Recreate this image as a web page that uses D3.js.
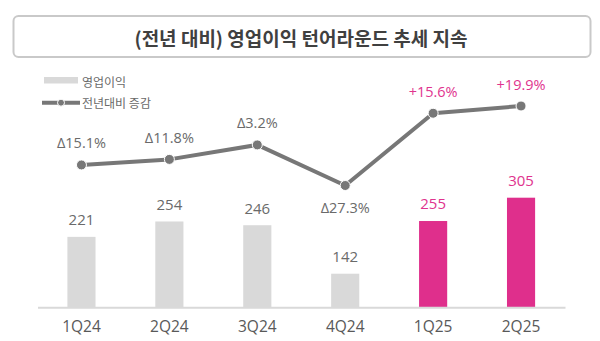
<!DOCTYPE html>
<html><head><meta charset="utf-8">
<script src="https://cdn.jsdelivr.net/npm/d3@7/dist/d3.min.js"></script>
<style>body{margin:0;background:#fff}svg{display:block}</style>
</head><body><svg id="c" width="600" height="341"></svg>
<script>
const categories = ["1Q24","2Q24","3Q24","4Q24","1Q25","2Q25"];
const profit = [221,254,246,142,255,305];
const yoy = [-15.1,-11.8,-3.2,-27.3,15.6,19.9];
const yoyLabels = ["Δ15.1%","Δ11.8%","Δ3.2%","Δ27.3%","+15.6%","+19.9%"];
const highlight = [false,false,false,false,true,true];
const title = "(전년 대비) 영업이익 턴어라운드 추세 지속";
const legendLabels = ["영업이익","전년대비 증감"];

const FONT = "'Open Sans','Noto Sans CJK KR',sans-serif";
const KFONT = "'Noto Sans CJK KR','Noto Sans',sans-serif";
const GRAY_BAR = "#d9d9d9", PINK = "#df2f8c", PINK_TXT = "#e0338e", TXT = "#6a6a6a", LINE = "#777777";

const svg = d3.select("#c");

// title box
svg.append("rect").attr("x",13.5).attr("y",16).attr("width",577).attr("height",41)
  .attr("rx",5).attr("fill","#fff").attr("stroke","#c9c9c9").attr("stroke-width",2);
svg.append("text").attr("x",301).attr("y",37).attr("text-anchor","middle")
  .attr("dominant-baseline","central").attr("font-family",KFONT).attr("font-weight","bold")
  .attr("font-size",19).attr("fill","#404040").text(title);

const x = d3.scaleBand().domain(categories).range([37.5,565]).paddingInner(0.68).paddingOuter(0.34);
const y = d3.scaleLinear().domain([70,305]).range([307.3,197.7]);
const yl = d3.scaleLinear().domain([-27.3,19.9]).range([185.5,106]);
const cx = d => x(d) + x.bandwidth()/2;

// bars
svg.append("g").selectAll("rect").data(categories).join("rect")
  .attr("x",d=>x(d)).attr("width",x.bandwidth())
  .attr("y",(d,i)=>y(profit[i])).attr("height",(d,i)=>y(70)-y(profit[i]))
  .attr("fill",(d,i)=>highlight[i]?PINK:GRAY_BAR);

// baseline axis
const xAxis = d3.axisBottom(x).tickSize(0).tickPadding(12);
const ax = svg.append("g").attr("transform",`translate(0,${y(70)})`).call(xAxis);
ax.select(".domain").attr("stroke","#d9d9d9").attr("stroke-width",2);
ax.selectAll("text").attr("font-family",FONT).attr("font-size",15.5).attr("fill","#595959")
  .attr("dy",null).attr("y",18.5).attr("dominant-baseline","central");

// bar labels
svg.append("g").selectAll("text").data(categories).join("text")
  .attr("x",d=>cx(d)).attr("y",(d,i)=>y(profit[i])-17.7)
  .attr("text-anchor","middle").attr("dominant-baseline","central")
  .attr("font-family",FONT).attr("font-size",15)
  .attr("fill",(d,i)=>highlight[i]?PINK_TXT:TXT).text((d,i)=>profit[i]);

// line
const line = d3.line().x((d,i)=>cx(categories[i])).y(d=>yl(d));
svg.append("path").datum(yoy).attr("d",line).attr("fill","none")
  .attr("stroke",LINE).attr("stroke-width",4).attr("stroke-linejoin","round");
svg.append("g").selectAll("circle").data(yoy).join("circle")
  .attr("cx",(d,i)=>cx(categories[i])).attr("cy",d=>yl(d)).attr("r",5)
  .attr("fill",LINE).attr("stroke","#fff").attr("stroke-width",1);

// line labels
svg.append("g").selectAll("text").data(yoy).join("text")
  .attr("x",(d,i)=>cx(categories[i])).attr("y",(d,i)=> i===3 ? yl(d)+21.5 : yl(d)-22)
  .attr("text-anchor","middle").attr("dominant-baseline","central")
  .attr("font-family",FONT).attr("font-size",14.5)
  .attr("fill",(d,i)=>highlight[i]?PINK_TXT:TXT).text((d,i)=>yoyLabels[i]);

// legend
const lg = svg.append("g");
lg.append("rect").attr("x",44).attr("y",77).attr("width",34).attr("height",6.5).attr("fill",GRAY_BAR);
lg.append("text").attr("x",82).attr("y",81).attr("dominant-baseline","central")
  .attr("font-family",KFONT).attr("font-size",12).attr("fill",TXT).text(legendLabels[0]);
lg.append("line").attr("x1",42).attr("x2",80).attr("y1",102.7).attr("y2",102.7)
  .attr("stroke",LINE).attr("stroke-width",4);
lg.append("circle").attr("cx",61).attr("cy",102.7).attr("r",3.5).attr("fill",LINE).attr("stroke","#fff").attr("stroke-width",1);
lg.append("text").attr("x",82).attr("y",102.5).attr("dominant-baseline","central")
  .attr("font-family",KFONT).attr("font-size",12).attr("fill",TXT).text(legendLabels[1]);
</script></body></html>
